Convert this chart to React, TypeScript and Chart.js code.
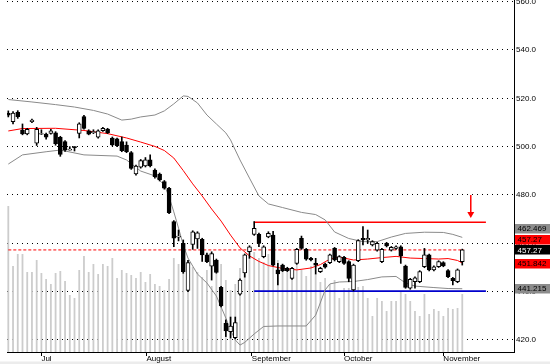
import React, { useEffect, useRef } from 'react';
import { Chart, registerables } from 'chart.js';

Chart.register(...registerables);

const FONT = "'Liberation Sans', Arial, sans-serif";

// ---- price data (one candle per trading day, index 0..96) ----
const opens = [513.8, 510.3, 514.2, 506.9, 505.3, 510.3, 501.4, 505.2, 505.2, 505.5, 505.7, 503.9, 502.1, 498.6, 500.0, 505.5, 512.4, 506.6, 505.8, 503.9, 506.6, 507.3, 503.5, 503.2, 502.1, 500.7, 497.5, 488.7, 491.5, 492.0, 494.5, 490.3, 488.7, 485.5, 482.8, 469.0, 462.5, 460.0, 440.5, 459.5, 461.8, 461.7, 455.2, 450.5, 453.1, 441.8, 426.9, 423.4, 421.0, 439.0, 447.8, 456.5, 463.7, 463.7, 454.5, 462.7, 463.4, 449.0, 451.0, 449.7, 445.5, 451.7, 462.1, 457.5, 453.8, 451.7, 448.3, 451.4, 452.0, 457.9, 452.4, 454.2, 452.4, 440.7, 452.8, 462.1, 461.4, 459.3, 457.2, 452.4, 460.0, 457.2, 457.9, 458.6, 450.6, 441.4, 444.1, 444.1, 450.3, 455.2, 449.0, 450.3, 452.0, 448.7, 445.5, 444.1, 452.4];
const highs = [514.8, 514.5, 514.9, 509.4, 507.6, 511.4, 508.0, 507.0, 505.6, 507.2, 506.2, 504.3, 502.5, 500.0, 500.0, 509.9, 513.0, 507.0, 507.0, 507.0, 508.0, 507.6, 504.0, 503.6, 504.0, 502.0, 498.0, 492.4, 494.7, 495.5, 496.6, 490.8, 489.1, 486.0, 483.2, 469.4, 465.5, 461.4, 453.0, 465.2, 464.8, 462.1, 456.0, 456.5, 453.5, 442.2, 428.3, 429.5, 429.5, 445.3, 455.6, 459.0, 469.0, 464.2, 459.0, 464.8, 465.0, 451.7, 451.4, 450.1, 450.1, 457.9, 463.0, 457.9, 454.2, 453.8, 450.1, 451.8, 455.6, 458.3, 454.9, 454.6, 452.8, 451.4, 461.5, 466.9, 465.5, 461.1, 460.4, 457.9, 460.4, 458.7, 459.0, 459.0, 451.0, 445.5, 446.1, 448.7, 457.9, 455.6, 450.7, 452.8, 452.4, 449.1, 445.9, 449.4, 457.6];
const lows = [512.3, 509.4, 511.7, 504.9, 504.9, 509.9, 500.5, 505.0, 503.1, 505.2, 500.6, 496.0, 498.0, 498.6, 498.2, 503.6, 507.2, 504.9, 505.4, 503.5, 506.3, 505.4, 500.3, 500.0, 497.9, 497.5, 490.6, 488.2, 491.1, 491.6, 491.6, 487.0, 485.8, 482.4, 472.3, 458.6, 461.0, 447.6, 440.0, 457.5, 457.9, 452.5, 452.0, 444.8, 447.6, 433.7, 421.4, 420.8, 420.5, 438.5, 446.0, 453.8, 463.3, 458.6, 454.0, 462.3, 450.6, 442.8, 448.3, 448.3, 445.1, 451.3, 457.5, 453.0, 452.7, 447.3, 447.9, 449.7, 451.6, 452.7, 452.0, 451.3, 444.1, 440.3, 452.4, 459.3, 460.0, 458.9, 456.8, 452.0, 458.5, 456.8, 457.5, 451.7, 441.4, 441.0, 441.4, 443.7, 449.9, 448.6, 448.6, 450.0, 450.3, 445.8, 442.8, 443.7, 451.0];
const closes = [513.0, 513.9, 512.4, 505.3, 507.2, 511.0, 507.2, 505.4, 503.9, 506.6, 501.2, 496.8, 498.6, 499.0, 499.6, 509.4, 507.6, 505.2, 506.2, 506.6, 507.6, 505.8, 500.7, 500.4, 498.3, 497.9, 491.0, 492.0, 494.2, 494.5, 492.0, 487.6, 486.2, 482.8, 472.7, 462.1, 463.0, 448.3, 452.0, 464.8, 464.3, 455.2, 452.4, 455.8, 448.0, 434.1, 423.8, 425.8, 427.2, 444.8, 455.2, 458.6, 466.2, 460.0, 458.6, 464.1, 451.0, 447.3, 448.7, 448.7, 449.7, 457.5, 457.9, 453.4, 453.1, 451.0, 449.7, 450.1, 455.2, 453.1, 454.5, 451.7, 445.5, 451.0, 461.1, 461.4, 462.1, 460.7, 460.0, 457.5, 458.9, 458.3, 458.6, 454.8, 441.8, 445.1, 445.7, 448.3, 455.2, 449.0, 450.3, 452.4, 450.6, 446.2, 444.5, 449.0, 457.27];
// volume (millions)
const volumes = [14.6, 8.6, 9.8, 9.8, 8.0, 8.0, 9.2, 7.9, 7.3, 6.8, 7.9, 8.1, 7.1, 5.7, 5.4, 8.2, 9.6, 8.0, 8.8, 7.8, 8.8, 8.6, 9.4, 7.4, 8.2, 7.9, 7.7, 7.4, 8.0, 7.0, 7.8, 6.8, 6.6, 6.2, 7.3, 9.4, 8.8, 9.5, 9.2, 8.5, 8.0, 7.5, 8.2, 6.6, 7.8, 8.8, 7.2, 6.2, 6.8, 8.4, 9.0, 9.6, 10.0, 9.4, 9.0, 9.8, 8.6, 9.2, 8.8, 8.0, 8.4, 9.0, 8.2, 7.6, 8.6, 7.8, 7.0, 7.4, 6.8, 7.2, 5.4, 6.4, 6.4, 6.6, 6.5, 6.6, 5.4, 3.6, 5.4, 5.1, 4.1, 5.1, 5.1, 6.1, 5.8, 5.1, 4.1, 3.6, 5.8, 3.8, 4.3, 4.1, 3.6, 4.4, 4.3, 4.4, 5.8];

// ---- Bollinger bands (at these bar indices) ----
const bbUpperIdx = [0, 5, 10, 14, 18, 21, 24, 26, 28, 31, 33, 35, 37, 38, 40, 42, 44, 46, 47, 48, 49, 51, 53, 55, 58, 62, 65, 67, 69, 72, 75, 78, 81, 84, 88, 92, 94, 96];
const bbUpper = [519.5, 518.5, 517.4, 516.4, 515.0, 513.5, 511.0, 511.4, 512.3, 513.1, 514.8, 517.7, 521.0, 520.8, 518.1, 513.1, 509.4, 505.7, 502.8, 498.6, 494.5, 487.0, 479.6, 476.3, 474.8, 472.8, 471.9, 469.7, 464.7, 462.0, 460.7, 460.7, 462.6, 464.1, 464.6, 464.5, 463.7, 462.469];
const bbMidIdx = [0, 3, 10, 16, 21, 25, 28, 31, 33, 35, 37, 39, 41, 43, 45, 47, 49, 51, 53, 55, 58, 61, 64, 66, 68, 70, 73, 76, 79, 82, 85, 88, 91, 93, 95, 96];
const bbMid = [506.5, 507.5, 507.6, 506.7, 505.4, 503.6, 501.9, 500.1, 498.4, 495.3, 490.1, 484.6, 479.6, 474.2, 469.2, 463.4, 458.1, 454.8, 452.5, 450.8, 449.6, 449.0, 449.8, 451.2, 453.5, 454.3, 453.1, 453.5, 454.1, 454.6, 453.9, 453.7, 453.5, 453.7, 452.9, 451.842];
const bbLowerIdx = [0, 3, 8, 11, 16, 23, 25, 28, 31, 33, 34, 35, 36, 37, 38, 40, 42, 44, 46, 47, 48, 49, 50, 52, 54, 57, 60, 63, 65, 67, 68, 70, 73, 76, 79, 82, 84, 86, 90, 93, 96];
const bbLower = [492.8, 496.6, 497.9, 498.6, 496.6, 496.1, 494.5, 489.9, 487.9, 484.1, 479.2, 473.0, 466.3, 459.3, 453.9, 447.3, 443.6, 438.2, 429.1, 424.1, 420.0, 417.9, 419.0, 422.5, 425.6, 425.8, 425.8, 425.8, 430.3, 440.7, 443.2, 444.0, 444.2, 445.0, 446.1, 446.3, 443.6, 442.3, 441.7, 441.3, 441.215];

// ---- drawn levels ----
const resistanceLevel = 468.7;
const supportLevel = 440.2;
const dashedLevel = 457.27;
const levelStartIdx = 52;
const levelEndIdx = 101;
const dashedStartIdx = 0;
const dashedEndIdx = 96.4;
const arrowIdx = 97.8;
const arrowFrom = 480.0;
const arrowTo = 472.1;

// ---- axis ----
const monthLabels = ['Jul', 'August', 'September', 'October', 'November'];
const monthTickIdx = [7, 29.2, 51.5, 71, 92];
const priceMin = 415.03;
const priceMax = 560.69;
const idxMin = -0.275;
const idxMax = 106.94;

// ---- right-axis value markers ----
const markerValues = [462.469, 457.27, 457.27, 451.842, 441.215];
const markerText = ['462.469', '457.27', '457.27', '451.842', '441.215'];
const markerBg = ['#8c8c8c', '#ff0000', '#000000', '#ff0000', '#8c8c8c'];
const markerFg = ['#000000', '#000000', '#ffffff', '#000000', '#000000'];
const anchorMarker = 2;

const markerPlugin = {
  id: 'markers',
  beforeDraw(chart: any) {
    const ctx = chart.ctx;
    ctx.save();
    ctx.fillStyle = '#ececec';
    ctx.fillRect(0, 361.5, chart.width, chart.height - 361.5);
    ctx.restore();
  },
  afterDraw(chart: any) {
    const ctx = chart.ctx;
    const ys = chart.scales.y;
    const n = markerValues.length;
    const items = markerValues.map((v, i) => ({ i, v, py: ys.getPixelForValue(v) }));
    const pos: number[] = new Array(n);
    const gap = 10.7;
    const a = items[anchorMarker];
    pos[anchorMarker] = a.py;
    let last = a.py;
    items
      .filter((it) => it.i !== anchorMarker && it.v >= a.v)
      .sort((p, q) => p.v - q.v)
      .forEach((it) => {
        const p = Math.min(it.py, last - gap);
        pos[it.i] = p;
        last = p;
      });
    last = a.py;
    items
      .filter((it) => it.i !== anchorMarker && it.v < a.v)
      .sort((p, q) => q.v - p.v)
      .forEach((it) => {
        const p = Math.max(it.py, last + gap);
        pos[it.i] = p;
        last = p;
      });
    const x0 = chart.chartArea.right + 1;
    ctx.save();
    ctx.font = `8px ${FONT}`;
    ctx.textBaseline = 'middle';
    ctx.textAlign = 'left';
    for (let i = 0; i < n; i++) {
      const y = pos[i];
      ctx.fillStyle = markerBg[i];
      ctx.fillRect(x0, Math.round(y - 4.5), chart.width - x0, 9.5);
      ctx.fillStyle = markerFg[i];
      ctx.fillText(markerText[i], x0 + 2.5, y + 0.5);
    }
    ctx.restore();
  },
};

function line(xs: number[], ys: number[]) {
  return xs.map((x, i) => ({ x, y: ys[i] }));
}

export default function App() {
  const ref = useRef<HTMLCanvasElement | null>(null);

  useEffect(() => {
    document.body.style.margin = '0';
    const canvas = ref.current;
    if (!canvas) return;
    const idx = opens.map((_, i) => i);

    const chart = new Chart(canvas, {
      type: 'bar',
      data: {
        datasets: [
          {
            type: 'line',
            data: [{ x: arrowIdx, y: arrowFrom }, { x: arrowIdx, y: arrowTo }],
            borderColor: '#ff0000',
            backgroundColor: '#ff0000',
            borderWidth: 1.5,
            pointRadius: [0, 4],
            pointStyle: 'triangle',
            rotation: 180,
            pointBorderWidth: 0,
            order: 0,
          } as any,
          {
            type: 'bar',
            data: idx.map((i) => ({ x: i, y: [Math.min(opens[i], closes[i]), Math.max(opens[i], closes[i])] })),
            backgroundColor: idx.map((i) => (closes[i] >= opens[i] ? '#ffffff' : '#000000')),
            borderColor: '#000000',
            borderWidth: 1,
            borderSkipped: false,
            barThickness: 4,
            grouped: false,
            yAxisID: 'y',
            order: 1,
          } as any,
          {
            type: 'bar',
            data: idx.map((i) => ({ x: i, y: [lows[i], highs[i]] })),
            backgroundColor: '#000000',
            barThickness: 1,
            grouped: false,
            yAxisID: 'y',
            order: 2,
          } as any,
          {
            type: 'line',
            data: line(bbMidIdx, bbMid),
            borderColor: '#ff0000',
            borderWidth: 1,
            pointRadius: 0,
            yAxisID: 'y',
            order: 3,
          } as any,
          {
            type: 'line',
            data: line(bbUpperIdx, bbUpper),
            borderColor: '#8a8a8a',
            borderWidth: 1,
            pointRadius: 0,
            yAxisID: 'y',
            order: 3,
          } as any,
          {
            type: 'line',
            data: line(bbLowerIdx, bbLower),
            borderColor: '#8a8a8a',
            borderWidth: 1,
            pointRadius: 0,
            yAxisID: 'y',
            order: 3,
          } as any,
          {
            type: 'line',
            data: [{ x: levelStartIdx, y: resistanceLevel }, { x: levelEndIdx, y: resistanceLevel }],
            borderColor: '#ff0000',
            borderWidth: 1.6,
            pointRadius: 0,
            yAxisID: 'y',
            order: 4,
          } as any,
          {
            type: 'line',
            data: [{ x: levelStartIdx, y: supportLevel }, { x: levelEndIdx, y: supportLevel }],
            borderColor: '#0000cc',
            borderWidth: 1.6,
            pointRadius: 0,
            yAxisID: 'y',
            order: 4,
          } as any,
          {
            type: 'line',
            data: [{ x: dashedStartIdx, y: dashedLevel }, { x: dashedEndIdx, y: dashedLevel }],
            borderColor: '#ff0000',
            borderWidth: 1,
            borderDash: [3, 2],
            pointRadius: 0,
            yAxisID: 'y',
            order: 4,
          } as any,
          {
            type: 'bar',
            data: idx.map((i) => ({ x: i, y: volumes[i] })),
            backgroundColor: '#cccccc',
            barThickness: 1.8,
            inflateAmount: 0,
            grouped: false,
            yAxisID: 'y2',
            order: 10,
          } as any,
        ],
      },
      options: {
        responsive: false,
        animation: false,
        devicePixelRatio: 1,
        events: [],
        layout: { autoPadding: false, padding: { left: 7, right: 0, top: 0, bottom: 0 } },
        plugins: { legend: { display: false }, tooltip: { enabled: false } },
        scales: {
          x: {
            type: 'linear',
            min: idxMin,
            max: idxMax,
            offset: false,
            grid: { drawOnChartArea: false, drawTicks: true, tickLength: 4, color: '#000000', offset: false },
            border: { display: true, color: '#000000', width: 1 },
            ticks: {
              autoSkip: false,
              maxRotation: 0,
              minRotation: 0,
              align: 'start',
              padding: -2,
              color: '#000000',
              font: { family: FONT, size: 8 },
              callback: (_v: any, i: number) => monthLabels[i],
            },
            afterBuildTicks: (s: any) => {
              s.ticks = monthTickIdx.map((v) => ({ value: v }));
            },
            afterFit: (s: any) => {
              s.height = 12;
              s.paddingLeft = 0;
              s.paddingRight = 0;
            },
          } as any,
          y: {
            type: 'linear',
            position: 'right',
            min: priceMin,
            max: priceMax,
            grid: { color: '#000000', lineWidth: 1, drawTicks: false },
            border: { display: true, color: '#000000', width: 1, dash: [1, 4] },
            ticks: {
              stepSize: 20,
              includeBounds: false,
              padding: 2,
              color: '#000000',
              font: { family: FONT, size: 8 },
              callback: (v: any) => Number(v).toFixed(1),
            },
            afterFit: (s: any) => {
              s.width = 36;
              s.paddingTop = 0;
              s.paddingBottom = 0;
            },
          } as any,
          y2: {
            type: 'linear',
            display: false,
            min: 0,
            max: 35.2,
          },
        },
      } as any,
      plugins: [markerPlugin],
    });
    return () => chart.destroy();
  }, []);

  return (
    <div style={{ position: 'fixed', left: 0, top: 0, width: 550, height: 364, background: '#ffffff' }}>
      <canvas ref={ref} width={550} height={364} style={{ display: 'block', width: 550, height: 364 }} />
    </div>
  );
}
